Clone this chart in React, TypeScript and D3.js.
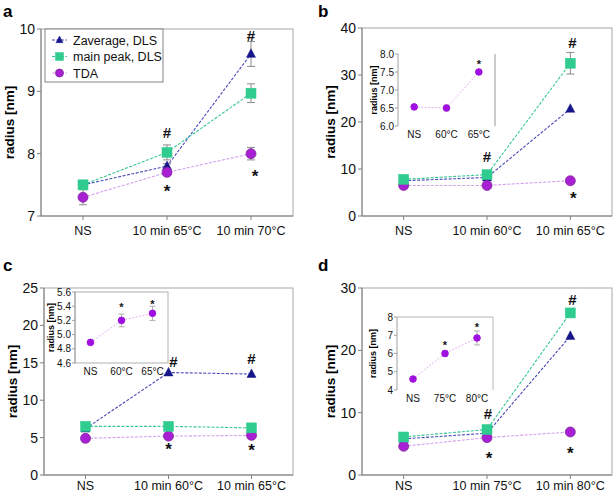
import React from 'react'
import * as d3 from 'd3'

const W = 614
const H = 493

// categories
const catsA = ['NS', '10 min 65°C', '10 min 70°C']
const catsB = ['NS', '10 min 60°C', '10 min 65°C']
const catsC = ['NS', '10 min 60°C', '10 min 65°C']
const catsD = ['NS', '10 min 75°C', '10 min 80°C']
const insetCatsB = ['NS', '60°C', '65°C']
const insetCatsC = ['NS', '60°C', '65°C']
const insetCatsD = ['NS', '75°C', '80°C']

// panel a
const zavgA = [7.5, 7.8, 9.6]
const zavgErrA = [0.03, 0.04, 0.2]
const peakA = [7.5, 8.02, 8.97]
const peakErrA = [0.03, 0.12, 0.15]
const tdaA = [7.3, 7.7, 8.0]
const tdaErrA = [0.12, 0.05, 0.1]
// panel b
const zavgB = [7.5, 8.2, 22.8]
const zavgErrB = [0, 0, 0]
const peakB = [7.8, 8.8, 32.5]
const peakErrB = [0, 0.3, 2.3]
const tdaB = [6.5, 6.5, 7.5]
const tdaErrB = [0, 0, 0]
// panel c
const zavgC = [6.2, 13.7, 13.5]
const zavgErrC = [0, 0, 0]
const peakC = [6.5, 6.5, 6.3]
const peakErrC = [0, 0, 0]
const tdaC = [4.9, 5.2, 5.3]
const tdaErrC = [0, 0, 0]
// panel d
const zavgD = [5.8, 6.7, 22.3]
const zavgErrD = [0, 0, 0]
const peakD = [6.1, 7.3, 26.0]
const peakErrD = [0, 0, 0]
const tdaD = [4.6, 6.0, 6.9]
const tdaErrD = [0, 0, 0]

// insets (TDA only)
const insetB = [6.53, 6.5, 7.5]
const insetErrB = [0.02, 0.08, 0.06]
const insetC = [4.89, 5.2, 5.3]
const insetErrC = [0.01, 0.09, 0.1]
const insetD = [4.6, 6.0, 6.85]
const insetErrD = [0.02, 0.15, 0.38]

// significance marks [category index, value, symbol, x shift]
const marksA: [number, number, string, number][] = [[1, 8.33, '#', 0], [1, 7.47, '*', 0], [2, 9.9, '#', 0], [2, 7.72, '*', 4]]
const marksB: [number, number, string, number][] = [[1, 12.6, '#', 0], [2, 37, '#', 2], [2, 4.9, '*', 3]]
const marksC: [number, number, string, number][] = [[1, 15.1, '#', 5], [2, 15.5, '#', 0], [1, 4.1, '*', 0], [2, 4.0, '*', 0]]
const marksD: [number, number, string, number][] = [[1, 9.9, '#', 1], [2, 28.2, '#', 2], [1, 3.5, '*', 2], [2, 4.2, '*', 0]]
const insetMarksB: [number, number, string, number][] = [[2, 7.8, '*', 0]]
const insetMarksC: [number, number, string, number][] = [[1, 5.43, '*', 0], [2, 5.47, '*', 0]]
const insetMarksD: [number, number, string, number][] = [[1, 6.63, '*', 0], [2, 7.6, '*', 0]]

const legendLabels = ['Zaverage, DLS', 'main peak, DLS', 'TDA']

const FONT = 'Liberation Sans, Arial, sans-serif'

const STYLE = [
  { marker: 'tri', fill: '#16168a', stroke: '#16168a', line: '#4a4ab8' },
  { marker: 'sq', fill: '#2fcb8f', stroke: '#2fcb8f', line: '#38c895' },
  { marker: 'circ', fill: '#a91fd4', stroke: '#7d2a9a', line: '#d6a0ec' },
]

function Marker({ kind, x, y, s, fill, stroke }: any) {
  if (kind === 'tri') {
    const h = s * 0.95
    return <path d={`M${x},${y - h * 0.6}L${x + s / 2},${y + h * 0.4}L${x - s / 2},${y + h * 0.4}Z`} fill={fill} stroke={stroke} strokeWidth={0.5} />
  }
  if (kind === 'sq') return <rect x={x - s / 2} y={y - s / 2} width={s} height={s} fill={fill} stroke={stroke} strokeWidth={0.5} />
  return <circle cx={x} cy={y} r={s / 2} fill={fill} stroke={stroke} strokeWidth={0.8} />
}

function Mark({ x, y, t, size }: any) {
  // centre glyph on y
  const off = t === '*' ? 0.62 : 0.36
  return (
    <text x={x} y={y + off * size} textAnchor="middle" fontSize={size} fontWeight="bold" fontFamily={FONT} fill="#111">
      {t}
    </text>
  )
}

function ErrBar({ x, y0, y1, cap, color }: any) {
  return (
    <g stroke={color || '#8a8a8a'} strokeWidth={1}>
      <line x1={x} x2={x} y1={y0} y2={y1} />
      <line x1={x - cap} x2={x + cap} y1={y0} y2={y0} />
      <line x1={x - cap} x2={x + cap} y1={y1} y2={y1} />
    </g>
  )
}

function Panel({ letter, lx, ly, box, cats, domain, ticks, series, errs, marks, legend, labelDy }: any) {
  const [left, top, right, bottom] = box
  const x = d3.scalePoint<string>().domain(cats).range([left, right]).padding(0.5)
  const y = d3.scaleLinear().domain(domain).range([bottom, top])
  const line = d3.line<number>().x((_, i) => x(cats[i])!).y(d => y(d))
  return (
    <g>
      <text x={lx} y={ly} fontSize={17} fontWeight="bold" fontFamily={FONT}>{letter}</text>
      <rect x={left} y={top} width={right - left} height={bottom - top} fill="none" stroke="#a8a8a8" strokeWidth={1} />
      <line x1={left} x2={left} y1={top} y2={bottom} stroke="#808080" />
      <line x1={left} x2={right} y1={bottom} y2={bottom} stroke="#808080" />
      {ticks.map((t: number) => (
        <g key={t}>
          <line x1={left - 4} x2={left} y1={y(t)} y2={y(t)} stroke="#808080" />
          <text x={left - 6} y={y(t) + 5} textAnchor="end" fontSize={14} fontFamily={FONT} fill="#111">{t}</text>
        </g>
      ))}
      {cats.map((c: string) => (
        <g key={c}>
          <line x1={x(c)} x2={x(c)} y1={bottom} y2={bottom + 4} stroke="#808080" />
          <text x={x(c)} y={bottom + labelDy} textAnchor="middle" fontSize={12.5} fontFamily={FONT} fill="#111">{c}</text>
        </g>
      ))}
      <text transform={`translate(${left - 27},${(top + bottom) / 2}) rotate(-90)`} textAnchor="middle" fontSize={13.5} fontWeight="bold" fontFamily={FONT}>
        radius [nm]
      </text>
      {series.map((s: number[], k: number) => (
        <path key={k} d={line(s)!} fill="none" stroke={STYLE[k].line} strokeWidth={1.1} strokeDasharray="3,1.5" />
      ))}
      {series.map((s: number[], k: number) =>
        s.map((v, i) =>
          errs[k][i] > 0 ? <ErrBar key={`e${k}${i}`} x={x(cats[i])} y0={y(v - errs[k][i])} y1={y(v + errs[k][i])} cap={4} /> : null
        )
      )}
      {[0, 2, 1].map(k =>
        series[k].map((v: number, i: number) => (
          <Marker key={`m${k}${i}`} kind={STYLE[k].marker} x={x(cats[i])} y={y(v)} s={k === 0 ? 9 : 10} fill={STYLE[k].fill} stroke={STYLE[k].stroke} />
        ))
      )}
      {marks.map(([i, v, t, dx]: [number, number, string, number], j: number) => (
        <Mark key={j} x={x(cats[i])! + dx} y={y(v)} t={t} size={t === '*' ? 17 : 15} />
      ))}
      {legend && (
        <g>
          <rect x={left + 4} y={top} width={118} height={53} fill="#fff" stroke="#666" strokeWidth={0.8} />
          {legendLabels.map((l, k) => {
            const yy = top + 11 + k * 16.5
            return (
              <g key={l}>
                <line x1={left + 11} x2={left + 26} y1={yy} y2={yy} stroke={STYLE[k].line} strokeWidth={1.1} strokeDasharray="3,1.5" />
                <Marker kind={STYLE[k].marker} x={left + 18.5} y={yy} s={k === 0 ? 7 : 8} fill={STYLE[k].fill} stroke={STYLE[k].stroke} />
                <text x={left + 32} y={yy + 4.5} fontSize={12.5} fontFamily={FONT} fill="#111">{l}</text>
              </g>
            )
          })}
        </g>
      )}
    </g>
  )
}

function Inset({ box, cats, domain, ticks, values, errs, marks, frame, fmt }: any) {
  const [left, top, right, bottom] = box
  const x = d3.scalePoint<string>().domain(cats).range([left, right]).padding(0.5)
  const y = d3.scaleLinear().domain(domain).range([bottom, top])
  const line = d3.line<number>().x((_, i) => x(cats[i])!).y(d => y(d))
  return (
    <g>
      {frame === 'box' && <rect x={left} y={top} width={right - left} height={bottom - top} fill="#fff" stroke="#b0b0b0" />}
      {frame === 'top' && (
        <g>
          <rect x={left} y={top} width={right - left} height={bottom - top} fill="#fff" stroke="none" />
          <path d={`M${left},${top}H${right}V${bottom}`} fill="none" stroke="#b8b8b8" />
        </g>
      )}
      {frame === 'right' && <line x1={right} x2={right} y1={top} y2={bottom} stroke="#b8b8b8" strokeWidth={1.5} />}
      <line x1={left} x2={left} y1={top} y2={bottom} stroke="#a0a0a0" />
      {ticks.map((t: number) => (
        <g key={t}>
          <line x1={left - 3} x2={left} y1={y(t)} y2={y(t)} stroke="#a0a0a0" />
          <text x={left - 4} y={y(t) + 3.5} textAnchor="end" fontSize={10} fontFamily={FONT} fill="#111">{fmt(t)}</text>
        </g>
      ))}
      {cats.map((c: string) => (
        <text key={c} x={x(c)} y={bottom + 12} textAnchor="middle" fontSize={10} fontFamily={FONT} fill="#111">{c}</text>
      ))}
      <text transform={`translate(${left - 21},${(top + bottom) / 2}) rotate(-90)`} textAnchor="middle" fontSize={9} fontWeight="bold" fontFamily={FONT}>
        radius [nm]
      </text>
      <path d={line(values)!} fill="none" stroke="#e2b4f2" strokeWidth={1} strokeDasharray="2,1.5" />
      {values.map((v: number, i: number) =>
        errs[i] > 0.03 ? <ErrBar key={`e${i}`} x={x(cats[i])} y0={y(v - errs[i])} y1={y(v + errs[i])} cap={3} color="#b0b0b0" /> : null
      )}
      {values.map((v: number, i: number) => (
        <circle key={i} cx={x(cats[i])} cy={y(v)} r={3.3} fill="#a010e0" stroke="#a010e0" />
      ))}
      {marks.map(([i, v, t, dx]: [number, number, string, number], j: number) => (
        <Mark key={j} x={x(cats[i])! + dx} y={y(v)} t={t} size={11} />
      ))}
    </g>
  )
}

export default function App() {
  const f1 = d3.format('.1f')
  return (
    <svg width={W} height={H} style={{ position: 'absolute', left: 0, top: 0, background: '#fff' }}>
      <rect width={W} height={H} fill="#fff" />
      <Panel letter="a" lx={3} ly={17} box={[41, 29, 293, 216]} cats={catsA} domain={[7, 10]} ticks={[7, 8, 9, 10]}
        series={[zavgA, peakA, tdaA]} errs={[zavgErrA, peakErrA, tdaErrA]} marks={marksA} legend labelDy={19} />
      <Panel letter="b" lx={318} ly={17} box={[362, 28, 612, 216]} cats={catsB} domain={[0, 40]} ticks={[0, 10, 20, 30, 40]}
        series={[zavgB, peakB, tdaB]} errs={[zavgErrB, peakErrB, tdaErrB]} marks={marksB} labelDy={19} />
      <Inset box={[398, 54, 495, 126]} cats={insetCatsB} domain={[6, 8]} ticks={[6, 6.5, 7, 7.5, 8]}
        values={insetB} errs={insetErrB} marks={insetMarksB} frame="right" fmt={f1} />
      <Panel letter="c" lx={3} ly={271} box={[44, 288, 293, 475]} cats={catsC} domain={[0, 25]} ticks={[0, 5, 10, 15, 20, 25]}
        series={[zavgC, peakC, tdaC]} errs={[zavgErrC, peakErrC, tdaErrC]} marks={marksC} labelDy={14.5} />
      <Inset box={[75, 292, 168, 363]} cats={insetCatsC} domain={[4.6, 5.6]} ticks={[4.6, 4.8, 5.0, 5.2, 5.4, 5.6]}
        values={insetC} errs={insetErrC} marks={insetMarksC} frame="box" fmt={f1} />
      <Panel letter="d" lx={318} ly={271} box={[362, 288, 612, 475]} cats={catsD} domain={[0, 30]} ticks={[0, 10, 20, 30]}
        series={[zavgD, peakD, tdaD]} errs={[zavgErrD, peakErrD, tdaErrD]} marks={marksD} labelDy={14.5} />
      <Inset box={[397, 317, 493, 390]} cats={insetCatsD} domain={[4, 8]} ticks={[4, 5, 6, 7, 8]}
        values={insetD} errs={insetErrD} marks={insetMarksD} frame="top" fmt={d3.format('d')} />
    </svg>
  )
}
